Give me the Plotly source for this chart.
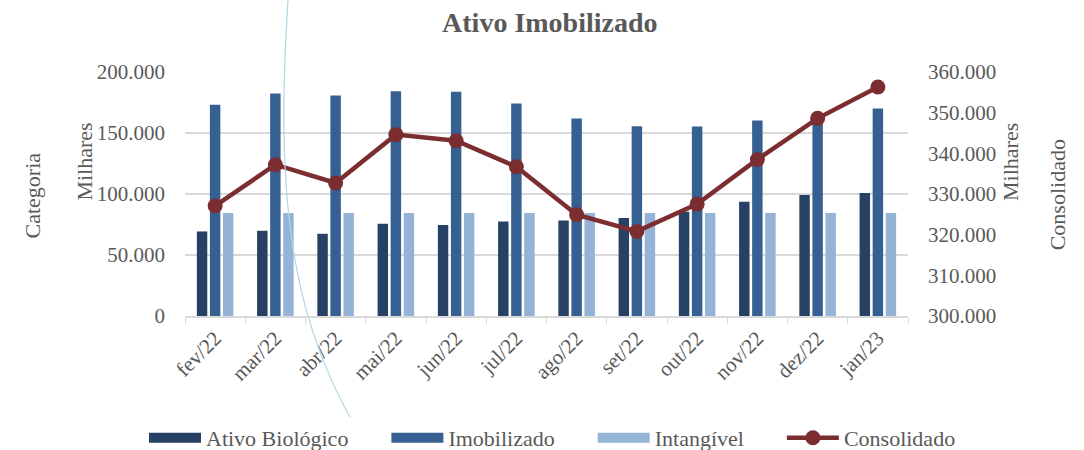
import plotly.graph_objects as go

categories = ["fev/22", "mar/22", "abr/22", "mai/22", "jun/22", "jul/22",
              "ago/22", "set/22", "out/22", "nov/22", "dez/22", "jan/23"]
ativo_biologico = [69300, 69800, 67400, 75600, 74500, 77500,
                   78300, 80300, 85500, 93700, 99200, 100800]
imobilizado = [173100, 182400, 180800, 184300, 183800, 174200,
               161900, 155600, 155300, 160300, 163000, 170100]
intangivel = [84400, 84400, 84400, 84400, 84400, 84400,
              84400, 84400, 84400, 84400, 84400, 84400]
consolidado = [327100, 337200, 332700, 344600, 343100, 336700,
               324900, 320800, 327500, 338500, 348600, 356300]

C_DARK = "#264163"
C_MID = "#366092"
C_LIGHT = "#95B3D7"
C_LINE = "#7B2D30"
GRAY = "#595959"
FONT = "Liberation Serif"
FS = 21
PAD = "\u00a0" * 6  # extra spacing between legend entries

fig = go.Figure()
series = [("Ativo Biológico", ativo_biologico, C_DARK),
          ("Imobilizado", imobilizado, C_MID),
          ("Intangível", intangivel, C_LIGHT)]
for name, vals, col in series:
    fig.add_trace(go.Bar(x=categories, y=vals, name=name, marker_color=col,
                         marker_line_width=0, showlegend=False, legendgroup=name))
    # legend proxy (wide swatch like the original)
    fig.add_trace(go.Scatter(x=[None], y=[None], mode="lines", name=name + PAD,
                             line=dict(color=col, width=12), legendgroup=name,
                             hoverinfo="skip"))

fig.add_trace(go.Scatter(x=categories, y=consolidado, name="Consolidado",
                         yaxis="y2", mode="lines+markers",
                         line=dict(color=C_LINE, width=4.5),
                         marker=dict(color=C_LINE, size=15)))

fig.update_layout(
    width=1084, height=450,
    margin=dict(l=185, r=176, t=72, b=134, autoexpand=False),
    paper_bgcolor="white", plot_bgcolor="white",
    separators=",.",
    font=dict(family=FONT, color=GRAY, size=FS),
    title=dict(text="<b>Ativo Imobilizado</b>", x=0.5046, xref="paper",
               y=1 - 22 / 450, yref="container", yanchor="middle", xanchor="center",
               font=dict(family=FONT, size=28, color=GRAY)),
    barmode="group", bargap=0.35, bargroupgap=0.2,
    xaxis=dict(type="category", range=[-0.5, 11.5], showgrid=False, showline=True,
               linecolor="#D9D9D9", linewidth=1.5, ticks="outside",
               tickson="boundaries", ticklen=6, tickcolor="#D9D9D9",
               tickangle=-45, automargin=False,
               tickfont=dict(family=FONT, size=FS, color=GRAY)),
    yaxis=dict(range=[0, 200000], dtick=50000, tickformat=",.0f",
               showgrid=True, gridcolor="#D9D9D9", gridwidth=1.5,
               zeroline=False, showline=False, ticks="", automargin=False,
               ticklabelstandoff=19,
               tickfont=dict(family=FONT, size=FS, color=GRAY)),
    yaxis2=dict(range=[300000, 360000], dtick=10000, tickformat=",.0f",
                overlaying="y", side="right", showgrid=False, zeroline=False,
                showline=False, ticks="", ticklabelstandoff=19, automargin=False,
                tickfont=dict(family=FONT, size=FS, color=GRAY)),
    legend=dict(orientation="h", xref="paper", x=(144 - 185) / 723, xanchor="left",
                yref="paper", y=(316 - 438) / 244, yanchor="middle", itemwidth=52,
                font=dict(family=FONT, size=22, color=GRAY),
                traceorder="normal", itemclick=False, itemdoubleclick=False),
    annotations=[
        dict(text="Milhares", xref="paper", yref="paper", x=-0.159, y=0.799,
             textangle=-90, showarrow=False, font=dict(size=22, color=GRAY)),
        dict(text="Categoria", xref="paper", yref="paper", x=-0.231, y=0.496,
             textangle=-90, showarrow=False, font=dict(size=22, color=GRAY)),
        dict(text="Milhares", xref="paper", yref="paper", x=1.161, y=0.799,
             textangle=-90, showarrow=False, font=dict(size=22, color=GRAY)),
        dict(text="Consolidado", xref="paper", yref="paper", x=1.228, y=0.496,
             textangle=-90, showarrow=False, font=dict(size=22, color=GRAY)),
    ],
)

# decorative light-blue arc crossing the chart (background artefact of the original)
def px(x):
    return (x - 185) / 723
def py(y):
    return (316 - y) / 244
arc = "M {},{} C {},{} {},{} {},{}".format(px(288), py(0), px(275), py(200),
                                            px(290), py(330), px(370), py(450))
fig.add_shape(type="path", path=arc, xref="paper", yref="paper",
              line=dict(color="#B3D6E4", width=1.2), layer="above")

fig.write_html("out.html", config={"displayModeBar": False},
               post_script="document.body.style.margin='0';document.body.style.padding='0';"
                           "document.documentElement.style.overflow='hidden';")
